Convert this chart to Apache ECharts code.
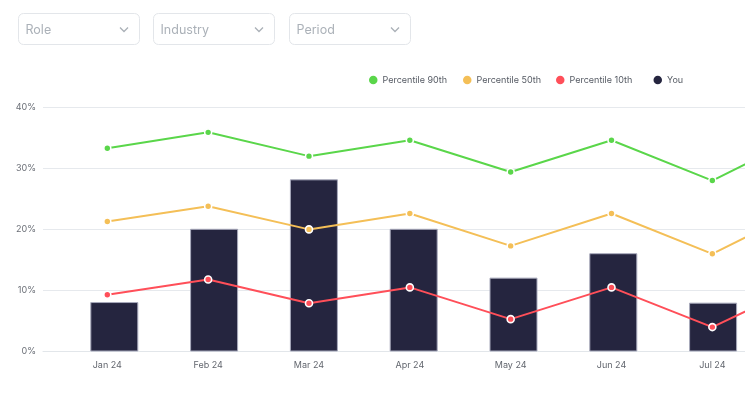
<!DOCTYPE html>
<html>
<head>
<meta charset="utf-8">
<script src="https://cdn.jsdelivr.net/npm/echarts@6/dist/echarts.min.js"></script>
<style>
html,body{margin:0;padding:0;background:#fff;}
#chart{width:745px;height:415px;}
</style>
</head>
<body>
<div id="chart"></div>
<script>
// ---- data ----
const categories = ['Jan 24', 'Feb 24', 'Mar 24', 'Apr 24', 'May 24', 'Jun 24', 'Jul 24', 'Aug 24'];
const p90 = [33.3, 35.9, 32.0, 34.6, 29.4, 34.6, 28.0, 36.2];
const p50 = [21.3, 23.8, 20.0, 22.6, 17.3, 22.6, 16.0, 24.2];
const p10 = [9.3, 11.8, 7.9, 10.5, 5.3, 10.5, 4.0, 11.8];
const you = [8.1, 20.1, 28.2, 20.1, 12.1, 16.1, 8.0, null];
const seriesNames = ['Percentile 90th', 'Percentile 50th', 'Percentile 10th', 'You'];
const filterLabels = ['Role', 'Industry', 'Period'];
const yMin = 0, yMax = 40, yStep = 10;

const FONT = 'Inter';
const colors = { p90: '#5ad64a', p50: '#f4bf57', p10: '#ff4f59', you: '#25253f' };

const chart = echarts.init(document.getElementById('chart'), null, { renderer: 'canvas' });

// filter boxes (graphics)
const boxX = [18.5, 153.5, 289.5];
const boxW = 121;
const graphic = [];
filterLabels.forEach((t, i) => {
  const x = boxX[i];
  graphic.push({
    type: 'rect', shape: { x: x, y: 13.5, width: boxW, height: 31, r: 5 },
    style: { fill: '#fff', stroke: '#e3e6ea', lineWidth: 1 }, silent: true
  });
  graphic.push({
    type: 'text', x: x + 7, y: 30,
    style: { text: t, fill: '#abb1b8', font: '12.5px ' + FONT, verticalAlign: 'middle', align: 'left' }, silent: true
  });
  const cx = x + boxW - 15.5;
  graphic.push({
    type: 'polyline', shape: { points: [[cx - 4, 27.5], [cx, 31.5], [cx + 4, 27.5]] },
    style: { stroke: '#aab0b7', lineWidth: 1.3, fill: null }, silent: true
  });
});

const legendLefts = [369, 463, 556, 653.5];
const legendColors = [colors.p90, colors.p50, colors.p10, colors.you];
const legends = seriesNames.map((n, i) => ({
  data: [{ name: n, itemStyle: { color: legendColors[i], borderWidth: 0 } }],
  left: legendLefts[i], top: 75.5, padding: 0,
  icon: 'circle', itemWidth: 8.5, itemHeight: 8.5, itemGap: 0,
  textStyle: { fontFamily: FONT, fontSize: 9, color: '#555a63' },
  selectedMode: false
}));

function lineSeries(name, data, color) {
  return {
    name: name, type: 'line', data: data, xAxisIndex: 1, yAxisIndex: 1,
    symbol: 'circle', symbolSize: 7, showAllSymbol: true, clip: true,
    lineStyle: { color: color, width: 2 },
    itemStyle: { color: color, borderColor: '#ffffff', borderWidth: 1.6 },
    emphasis: { disabled: true }, z: 5
  };
}

const gridCommon = { top: 107.3, bottom: 63.5, containLabel: false };
const hiddenY = {
  type: 'value', min: yMin, max: yMax, interval: yStep, show: false,
  axisLine: { show: false }, axisTick: { show: false }, axisLabel: { show: false }, splitLine: { show: false }
};

const option = {
  animation: false,
  backgroundColor: '#ffffff',
  tooltip: { show: false },
  axisPointer: { show: false },
  graphic: graphic,
  legend: legends,
  grid: [
    Object.assign({ left: 43, right: 0 }, gridCommon),
    Object.assign({ left: 56.9, width: 806.7, outerBoundsMode: 'none' }, gridCommon),
    Object.assign({ left: 64.4, width: 798.4, outerBoundsMode: 'none' }, gridCommon)
  ],
  xAxis: [
    {
      type: 'category', gridIndex: 0, data: [''],
      axisLine: { show: true, lineStyle: { color: '#e2e6ea', width: 1 } },
      axisTick: { show: false }, axisLabel: { show: false }, splitLine: { show: false }
    },
    {
      type: 'category', gridIndex: 1, data: categories,
      axisLine: { show: false }, axisTick: { show: false }, splitLine: { show: false },
      axisLabel: { fontFamily: FONT, fontSize: 9, color: '#62666e', margin: 9 }
    },
    {
      type: 'category', gridIndex: 2, data: categories, show: false,
      axisLine: { show: false }, axisTick: { show: false }, axisLabel: { show: false }, splitLine: { show: false }
    }
  ],
  yAxis: [
    {
      type: 'value', gridIndex: 0, min: yMin, max: yMax, interval: yStep,
      axisLine: { show: false }, axisTick: { show: false },
      axisLabel: { formatter: '{value}%', fontFamily: FONT, fontSize: 9, color: '#6b6f77', margin: 7 },
      splitLine: { lineStyle: { color: '#e6e9ed', width: 1 } }
    },
    Object.assign({ gridIndex: 1 }, hiddenY),
    Object.assign({ gridIndex: 2 }, hiddenY)
  ],
  series: [
    lineSeries(seriesNames[0], p90, colors.p90),
    lineSeries(seriesNames[1], p50, colors.p50),
    lineSeries(seriesNames[2], p10, colors.p10),
    {
      name: seriesNames[3], type: 'bar', data: you, xAxisIndex: 2, yAxisIndex: 2,
      barWidth: 48,
      itemStyle: { color: colors.you, borderColor: '#a7a9bb', borderWidth: 1 },
      emphasis: { disabled: true }, z: 2
    }
  ]
};
chart.setOption(option);
</script>
</body>
</html>
